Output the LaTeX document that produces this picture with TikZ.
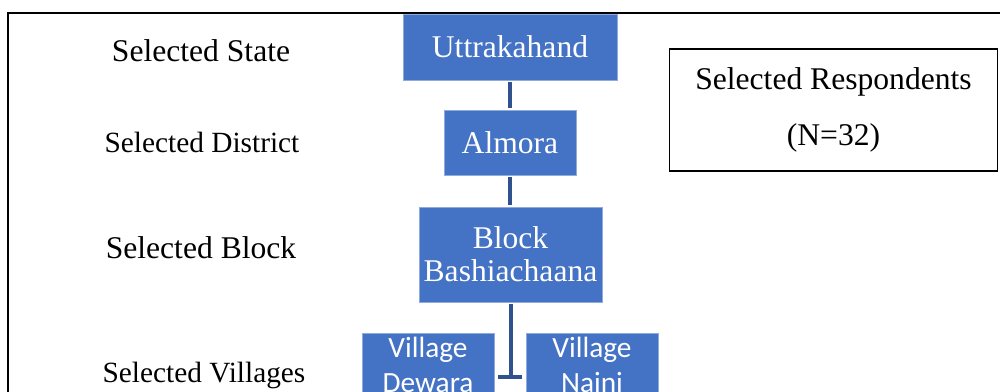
\documentclass[tikz,border=0pt]{standalone}
\usepackage{fontspec}
\setmainfont{Liberation Serif}
\newfontfamily\tnr{Liberation Serif}
\newfontfamily\carlito{Carlito}
\definecolor{boxblue}{HTML}{4472C4}
\definecolor{boxedge}{HTML}{8FAADC}
\definecolor{linkblue}{HTML}{2F528F}
\begin{document}
\begin{tikzpicture}[x=0.75pt,y=-0.75pt,
  bluebox/.style={fill=boxblue,draw=boxedge,line width=0.5pt,text=white,align=center,inner sep=0pt,
    font=\tnr\fontsize{23.7}{25}\selectfont},
  villbox/.style={fill=boxblue,draw=boxedge,line width=0.5pt,text=white,align=center,inner sep=0pt,
    minimum width=99pt,minimum height=48pt,font=\carlito\fontsize{22}{26.3}\selectfont},
  levellabel/.style={anchor=base,inner sep=0pt,font=\tnr\fontsize{23.7}{28}\selectfont},
  link/.style={draw=linkblue,line width=2.8pt,shorten <=1.5pt,shorten >=1.5pt}]
\useasboundingbox (0,0) rectangle (1000,392);
% outer frame (open to the right and bottom)
\draw[line width=1.5pt] (1010,13) -- (8,13) -- (8,400);
% level labels
\node[levellabel] (lstate) at (201,62) {Selected State};
\node[levellabel,font=\tnr\fontsize{22}{26}\selectfont] (ldistrict) at (202,153) {Selected District};
\node[levellabel] (lblock) at (201,258) {Selected Block};
\node[levellabel,font=\tnr\fontsize{22}{26}\selectfont] (lvillages) at (204,382) {Selected Villages};
% hierarchy boxes
\node[bluebox,minimum width=160.5pt,minimum height=49.5pt] (state) at (510,47) {Uttrakahand};
\node[bluebox,minimum width=99pt,minimum height=48.75pt] (district) at (510,142.5) {Almora};
\node[bluebox,minimum width=137.25pt,minimum height=71.25pt] (block) at (510.5,254.5) {Block\\Bashiachaana};
\node[villbox] (dewara) at (428,365) {Village\\Dewara};
\node[villbox] (naini) at (592,365) {Village\\Naini};
% respondents box
\node[draw,line width=1.3pt,minimum width=246pt,minimum height=91.5pt,align=center,inner sep=0pt,
  font=\tnr\fontsize{23.7}{42}\selectfont] (resp) at (833.5,110) {Selected Respondents\\(N=32)};
% connectors
\draw[link] (state.south) -- (district.north);
\draw[link] (district.south) -- (block.north -| district.south);
\coordinate (tee) at (511,377);
\draw[link,shorten >=0pt] (block.south -| tee) -- (tee);
\draw[link,shorten <=3pt,shorten >=3pt] (dewara.east |- tee) -- (naini.west |- tee);
\end{tikzpicture}
\end{document}
